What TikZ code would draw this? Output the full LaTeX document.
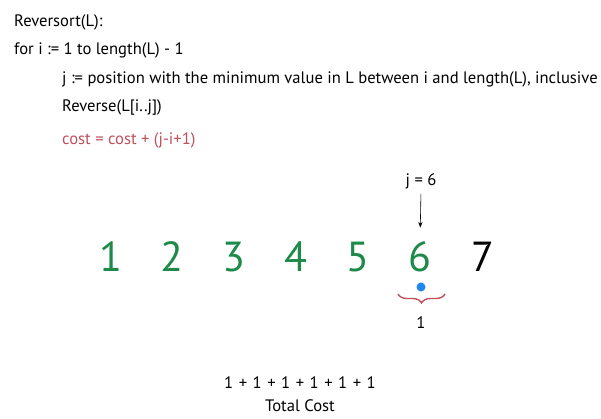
\documentclass[tikz,border=0pt]{standalone}
\usepackage{fontspec}
\setmainfont{PT Sans}
\usepackage{xcolor}
\usetikzlibrary{positioning,arrows.meta,decorations.pathreplacing}
\definecolor{numgreen}{HTML}{1E8A4A}
\definecolor{costred}{HTML}{C0505A}
\definecolor{dotblue}{HTML}{1E88F0}

\begin{document}
\begin{tikzpicture}[x=1pt, y=-1pt,
      font=\fontsize{16.6}{19}\selectfont,
      codeln/.style={anchor=west, inner sep=0pt},
      elem/.style={font=\fontsize{42}{46}\selectfont, text=numgreen, inner sep=0pt},
      seta/.style={-{Stealth[length=2mm]}, semithick, shorten <=3pt, shorten >=14pt},
      chave/.style={decorate, decoration={brace, amplitude=9pt, mirror}, costred, line width=1.4pt}]
    \useasboundingbox (0,0) rectangle (601,419);
    % pseudocode
    \node[codeln] (l1) at (14,22) {Reversort(L):};
    \node[codeln] (l2) at (14,50) {for i := 1 to length(L) - 1};
    \node[codeln] (l3) at (62,79) {j := position with the minimum value in L between i and length(L), inclusive};
    \node[codeln] (l4) at (62,108) {Reverse(L[i..j])};
    \node[codeln, text=costred] (l5) at (62,140) {cost = cost + (j-i+1)};
    % list
    \foreach \v/\x in {1/111, 2/172, 3/234, 4/296, 5/358, 6/420}
      \node[elem] (n\v) at (\x,257) {\v};
    \node[elem, text=black] (n7) at (483,257) {7};
    \node[inner sep=2pt] (jlab) at (421,181) {j = 6};
    \draw[seta] (jlab.south) -- (n6.north);
    \fill[dotblue] (421,287) circle (4.5);
    \coordinate (bl) at (398,294);
    \coordinate (br) at (445,294);
    \draw[chave] (bl) -- (br);
    \node (um) at (421,323) {1};
    % total
    \node (soma) at (300,383) {1\,\,+\,\,1\,\,+\,\,1\,\,+\,\,1\,\,+\,\,1\,\,+\,\,1};
    \node[below=4pt of soma] (total) {Total Cost};
  \end{tikzpicture}
\end{document}
